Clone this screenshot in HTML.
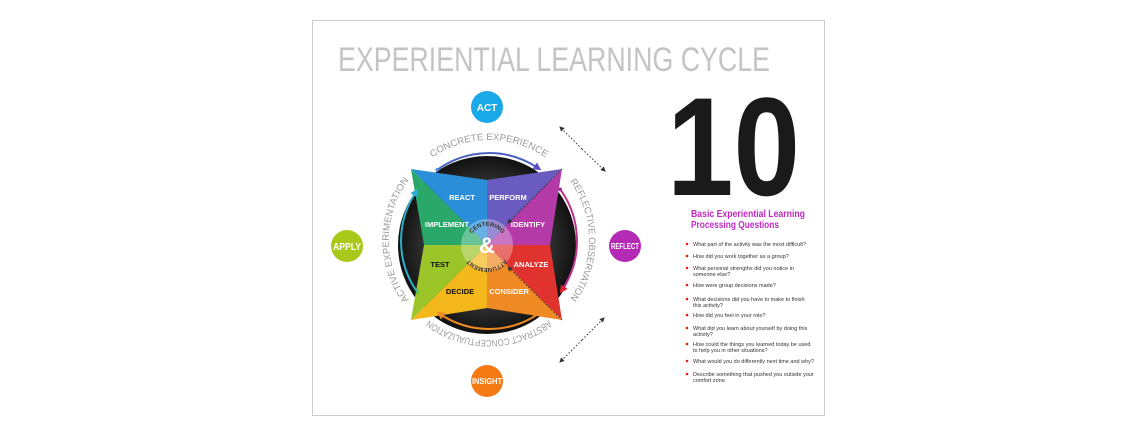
<!DOCTYPE html>
<html><head><meta charset="utf-8"><style>
html,body{margin:0;padding:0;background:#fff;}
svg{display:block;font-family:"Liberation Sans",sans-serif;}
</style></head><body>
<svg width="1138" height="437" viewBox="0 0 1138 437" xmlns="http://www.w3.org/2000/svg">
<defs>
<radialGradient id="dk" cx="50%" cy="50%" r="50%"><stop offset="0.6" stop-color="#3a3a3a"/><stop offset="1" stop-color="#111"/></radialGradient>
<path id="arcTop" d="M 412.4 175.7 A 100 100 0 0 1 565.6 175.7"/>
<path id="arcRight" d="M 553.3 163.4 A 100 100 0 0 1 553.3 316.6"/>
<path id="arcBot" d="M 565.6 304.3 A 100 100 0 0 1 412.4 304.3"/>
<path id="arcLeft" d="M 424.7 316.6 A 100 100 0 0 1 424.7 163.4"/>
<path id="ctTop" d="M 468 245 A 19 19 0 0 1 506 245"/>
<path id="ctBot" d="M 510 245 A 23 23 0 0 1 464 245"/>
<marker id="ah" markerWidth="5" markerHeight="5" refX="4" refY="2.5" orient="auto"><path d="M0,0 L5,2.5 L0,5 z" fill="#333"/></marker>
<marker id="mb" markerWidth="4" markerHeight="4" refX="2" refY="2" orient="auto" markerUnits="strokeWidth"><path d="M0,0 L4,2 L0,4 z" fill="#5a4fc0"/></marker>
<marker id="mr" markerWidth="4" markerHeight="4" refX="2" refY="2" orient="auto" markerUnits="strokeWidth"><path d="M0,0 L4,2 L0,4 z" fill="#e0202a"/></marker>
<marker id="mo" markerWidth="4" markerHeight="4" refX="2" refY="2" orient="auto" markerUnits="strokeWidth"><path d="M0,0 L4,2 L0,4 z" fill="#f08a24"/></marker>
<marker id="mc" markerWidth="4" markerHeight="4" refX="2" refY="2" orient="auto" markerUnits="strokeWidth"><path d="M0,0 L4,2 L0,4 z" fill="#2ab0d8"/></marker>
</defs>
<rect x="312.5" y="20.5" width="512" height="395" fill="#fff" stroke="#ccc"/>
<text x="338" y="71" font-size="34" fill="#c4c4c4" textLength="432" lengthAdjust="spacingAndGlyphs">EXPERIENTIAL LEARNING CYCLE</text>

<circle cx="487" cy="245" r="89" fill="url(#dk)"/>
<polygon points="487,245 487,180 411,169" fill="#2a8fd8"/>
<polygon points="487,245 411,169 424,245" fill="#2aa86a"/>
<polygon points="487,245 487,180 562,169" fill="#6a5bc0"/>
<polygon points="487,245 562,169 550,245" fill="#b43aa8"/>
<polygon points="487,245 550,245 562,320" fill="#e0322e"/>
<polygon points="487,245 562,320 487,308" fill="#f08a24"/>
<polygon points="487,245 487,308 411,320" fill="#f5b81c"/>
<polygon points="487,245 411,320 424,245" fill="#9cc52a"/>
<circle cx="487" cy="245" r="26" fill="#fff" fill-opacity="0.3"/>
<text x="487" y="253" font-size="22" font-weight="bold" fill="#fff" text-anchor="middle">&amp;</text>
<g font-size="6" fill="#333" font-weight="bold">
<text><textPath href="#ctTop" startOffset="50%" text-anchor="middle">CENTERING</textPath></text>
<text><textPath href="#ctBot" startOffset="50%" text-anchor="middle">ATTUNEMENT</textPath></text>
</g>
<g font-size="7.5" font-weight="bold" fill="#fff" text-anchor="middle">
<text x="462" y="200">REACT</text><text x="508" y="200">PERFORM</text>
<text x="447" y="227">IMPLEMENT</text><text x="528" y="227">IDENTIFY</text>
<text x="440" y="267" fill="#111">TEST</text><text x="531" y="267">ANALYZE</text>
<text x="460" y="294" fill="#111">DECIDE</text><text x="509" y="294">CONSIDER</text>
</g>
<g stroke="#333" stroke-dasharray="1.5 2" fill="none" stroke-width="1">
<line x1="562" y1="169" x2="508" y2="223" marker-end="url(#ah)"/>
<line x1="562" y1="320" x2="508" y2="267" marker-end="url(#ah)"/>
<line x1="582" y1="149" x2="560" y2="127" marker-end="url(#ah)"/>
<line x1="582" y1="149" x2="605" y2="171" marker-end="url(#ah)"/>
<line x1="582" y1="340" x2="604" y2="318" marker-end="url(#ah)"/>
<line x1="582" y1="340" x2="560" y2="362" marker-end="url(#ah)"/>
</g>
<g font-size="9.5" fill="#9a9a9a">
<text><textPath href="#arcTop" startOffset="50%" text-anchor="middle" textLength="120" lengthAdjust="spacingAndGlyphs">CONCRETE EXPERIENCE</textPath></text>
<text><textPath href="#arcRight" startOffset="50%" text-anchor="middle" textLength="125" lengthAdjust="spacingAndGlyphs">REFLECTIVE OBSERVATION</textPath></text>
<text><textPath href="#arcBot" startOffset="50%" text-anchor="middle" textLength="128" lengthAdjust="spacingAndGlyphs">ABSTRACT CONCEPTUALIZATION</textPath></text>
<text><textPath href="#arcLeft" startOffset="50%" text-anchor="middle" textLength="128" lengthAdjust="spacingAndGlyphs">ACTIVE EXPERIMENTATION</textPath></text>
</g>
<g fill="none" stroke-width="2">
<path d="M 437.3 169.8 A 88 88 0 0 1 538 168" stroke="#4a63c0" marker-end="url(#mb)"/>
<path d="M 560.2 189.3 A 88 88 0 0 1 562 290" stroke="#c0308a" marker-end="url(#mr)"/>
<path d="M 540.7 312.2 A 88 88 0 0 1 440 314" stroke="#f08a24" marker-end="url(#mo)"/>
<path d="M 417.8 292.7 A 88 88 0 0 1 416 192" stroke="#2ab0c8" marker-end="url(#mc)"/>
</g>
<g>
<circle cx="437.3" cy="169.8" r="1.8" fill="#4a8ad8"/>
<circle cx="560.2" cy="189.3" r="1.8" fill="#a030a0"/>
<circle cx="540.7" cy="312.2" r="1.8" fill="#f08a24"/>
<circle cx="417.8" cy="292.7" r="1.8" fill="#6ac040"/>
</g>
<circle cx="487" cy="107" r="16" fill="#1aa9e8"/><text x="487" y="111" font-size="10" font-weight="bold" fill="#fff" text-anchor="middle">ACT</text>
<circle cx="347" cy="246" r="16" fill="#a8c81a"/><text x="347" y="250" font-size="10" font-weight="bold" fill="#fff" text-anchor="middle" textLength="28" lengthAdjust="spacingAndGlyphs">APPLY</text>
<circle cx="625" cy="246" r="16" fill="#b52ab5"/><text x="625" y="249" font-size="8" font-weight="bold" fill="#fff" text-anchor="middle" textLength="28" lengthAdjust="spacingAndGlyphs">REFLECT</text>
<circle cx="487" cy="381" r="16" fill="#f57a14"/><text x="487" y="384" font-size="8" font-weight="bold" fill="#fff" text-anchor="middle" textLength="30" lengthAdjust="spacingAndGlyphs">INSIGHT</text>

<text x="667" y="195" font-size="140" font-weight="bold" fill="#1a1a1a" textLength="133" lengthAdjust="spacingAndGlyphs">10</text>
<text x="691" y="217" font-size="10" font-weight="bold" fill="#c22ac2" textLength="114" lengthAdjust="spacingAndGlyphs">Basic Experiential Learning</text>
<text x="691" y="228" font-size="10" font-weight="bold" fill="#c22ac2" textLength="88" lengthAdjust="spacingAndGlyphs">Processing Questions</text>
<g font-size="5.5" fill="#333">
<g fill="#e02020">
<circle cx="687" cy="244" r="1.3"/><circle cx="687" cy="256" r="1.3"/><circle cx="687" cy="268" r="1.3"/><circle cx="687" cy="285" r="1.3"/><circle cx="687" cy="299" r="1.3"/><circle cx="687" cy="315" r="1.3"/><circle cx="687" cy="328" r="1.3"/><circle cx="687" cy="344" r="1.3"/><circle cx="687" cy="361" r="1.3"/><circle cx="687" cy="374" r="1.3"/>
</g>
<text x="693" y="246">What part of the activity was the most difficult?</text>
<text x="693" y="258">How did you work together as a group?</text>
<text x="693" y="270">What personal strengths did you notice in</text><text x="693" y="276">someone else?</text>
<text x="693" y="287">How were group decisions made?</text>
<text x="693" y="301">What decisions did you have to make to finish</text><text x="693" y="307">this activity?</text>
<text x="693" y="317">How did you feel in your role?</text>
<text x="693" y="330">What did you learn about yourself by doing this</text><text x="693" y="336">activity?</text>
<text x="693" y="346">How could the things you learned today be used</text><text x="693" y="352">to help you in other situations?</text>
<text x="693" y="363">What would you do differently next time and why?</text>
<text x="693" y="376">Describe something that pushed you outside your</text><text x="693" y="382">comfort zone.</text>
</g>
</svg>
</body></html>
